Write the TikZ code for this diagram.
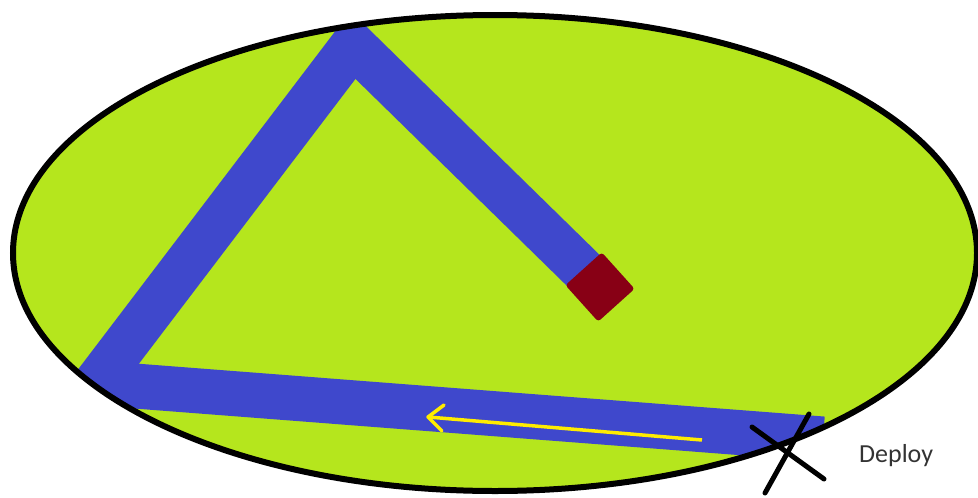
\documentclass[tikz,border=0pt]{standalone}
\usepackage{fontspec}
\setmainfont{Carlito}
\definecolor{lime}{RGB}{181,230,29}
\definecolor{pblue}{RGB}{63,72,204}
\definecolor{pred}{RGB}{136,0,21}
\definecolor{pyellow}{RGB}{255,236,0}
\tikzset{
  band/.style={draw=pblue, line width=45pt, line join=miter},
  xline/.style={draw=black, line width=5pt, line cap=round},
  arrowline/.style={draw=pyellow, line width=3.5pt},
}
\begin{document}
\begin{tikzpicture}[x=1pt,y=-1pt]
\useasboundingbox (0,0) rectangle (978,498);
\coordinate (c) at (495,253);
\fill[lime] (c) ellipse [x radius=482, y radius=238];
\coordinate (p1) at (588,275);
\coordinate (p2) at (353,45);
\coordinate (p3) at (96,383);
\coordinate (p4) at (823,439);
\begin{scope}
\clip (c) ellipse [x radius=482, y radius=238];
\draw[band] (p1) -- (p2) -- (p3) -- (p4);
\end{scope}
\node[fill=pred, minimum size=49pt, rotate=42, rounded corners=3pt, inner sep=0pt] (sq) at (600,287) {};
\coordinate (a1) at (702,440);
\coordinate (a2) at (428,417);
\draw[arrowline] (a1) -- (a2);
\coordinate (h1) at (444,405);
\coordinate (h2) at (442,431);
\draw[arrowline, line cap=round, line join=round] (h1) -- (a2) -- (h2);
\draw[black, line width=6pt] (c) ellipse [x radius=482, y radius=238];
\coordinate (x1) at (752,427);
\coordinate (x2) at (824,479);
\coordinate (x3) at (809,414);
\coordinate (x4) at (765,493);
\draw[xline] (x1) -- (x2);
\draw[xline] (x3) -- (x4);
\node[font=\fontsize{26}{31}\selectfont, text=black!80, anchor=west, inner sep=0pt] (lbl) at (859,456) {Deploy};
\end{tikzpicture}
\end{document}
